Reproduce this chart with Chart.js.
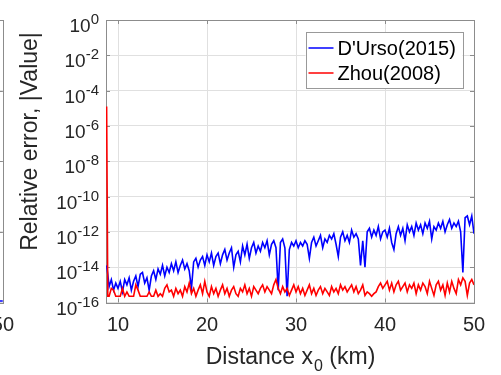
<!DOCTYPE html>
<html>
<head>
<meta charset="utf-8">
<script src="https://cdn.jsdelivr.net/npm/chart.js@4.4.1/dist/chart.umd.min.js"></script>
<style>
  html, body { margin: 0; padding: 0; background: #fff; overflow: hidden; }
  #wrap { position: relative; width: 501px; height: 375px; overflow: hidden; }
  #leftBox { position: absolute; top: 0; left: -306px; width: 320px; height: 375px; }
  #mainBox { position: absolute; top: 0; left: 0; width: 501px; height: 375px; }
</style>
</head>
<body>
<div id="wrap">
  <div id="leftBox"><canvas id="leftChart" width="320" height="375"></canvas></div>
  <div id="mainBox"><canvas id="mainChart" width="501" height="375"></canvas></div>
</div>
<script>
// distance x0 (km)
var distance = [8.72, 8.85, 9, 9.25, 9.5, 9.75,
  10, 10.25, 10.5, 10.75, 11, 11.25, 11.5, 11.75,
  12, 12.25, 12.5, 12.75, 13, 13.25, 13.5, 13.75,
  14, 14.25, 14.5, 14.75, 15, 15.25, 15.5, 15.75,
  16, 16.25, 16.5, 16.75, 17, 17.25, 17.5, 17.75,
  18, 18.25, 18.5, 18.75, 19, 19.25, 19.5, 19.75,
  20, 20.25, 20.5, 20.75, 21, 21.25, 21.5, 21.75,
  22, 22.25, 22.5, 22.75, 23, 23.25, 23.5, 23.75,
  24, 24.25, 24.5, 24.75, 25, 25.25, 25.5, 25.75,
  26, 26.25, 26.5, 26.75, 27, 27.25, 27.5, 27.75,
  28, 28.25, 28.5, 28.75, 29, 29.25, 29.5, 29.75,
  30, 30.25, 30.5, 30.75, 31, 31.25, 31.5, 31.75,
  32, 32.25, 32.5, 32.75, 33, 33.25, 33.5, 33.75,
  34, 34.25, 34.5, 34.75, 35, 35.25, 35.5, 35.75,
  36, 36.25, 36.5, 36.75, 37, 37.25, 37.5, 37.75,
  38, 38.25, 38.5, 38.75, 39, 39.25, 39.5, 39.75,
  40, 40.25, 40.5, 40.75, 41, 41.25, 41.5, 41.75,
  42, 42.25, 42.5, 42.75, 43, 43.25, 43.5, 43.75,
  44, 44.25, 44.5, 44.75, 45, 45.25, 45.5, 45.75,
  46, 46.25, 46.5, 46.75, 47, 47.25, 47.5, 47.75,
  48, 48.25, 48.5, 48.75, 49, 49.25, 49.5, 49.75,
  50];

// log10 of relative error, D'Urso (2015)
var dursoLog = [-13.9, -14.4,
  -15.1, -14.7, -15.3, -14.9,
  -15.2, -14.8, -15.4, -14.7, -15.0, -14.6, -15.3, -14.8,
  -14.5, -15.1, -14.4, -14.3, -14.9, -14.6, -15.3, -14.5,
  -14.2, -14.7, -14.1, -14.4, -13.9, -14.5, -14.0, -14.3,
  -13.8, -14.2, -13.7, -14.3, -13.9, -13.6, -14.1, -13.8,
  -14.2, -15.2, -13.7, -13.5, -14.0, -13.6, -13.4, -13.9,
  -13.3, -13.7, -13.2, -13.9, -13.4, -13.2, -13.8, -13.3,
  -13.0, -13.6, -13.2, -12.9, -14.0, -13.3, -13.1, -13.7,
  -12.8, -13.3, -12.7, -13.5, -12.9, -12.6, -13.2, -12.8,
  -13.1, -12.6, -12.9, -12.5, -13.3, -12.7, -12.5, -12.9,
  -15.3, -12.6, -12.4, -12.9, -15.65, -13.0, -12.6, -12.8,
  -12.5, -12.9, -12.6, -12.8, -12.5, -12.7, -13.5, -12.6,
  -12.3, -12.8, -12.5, -12.2, -12.9, -12.4, -12.6, -12.2,
  -12.4, -12.1, -12.7, -13.4, -12.3, -12.0, -12.5, -12.2,
  -12.6, -11.9, -12.3, -12.1, -12.4, -13.9, -12.5, -14.0,
  -12.0, -11.8, -12.3, -11.9, -12.2, -11.7, -12.4, -12.0,
  -11.9, -12.3, -11.8, -12.6, -13.0, -12.1, -11.7, -12.2,
  -11.8, -12.5, -11.6, -12.0, -11.7, -12.2, -11.5, -11.9,
  -11.6, -12.1, -11.5, -11.8, -11.4, -12.4, -11.7, -11.9,
  -11.5, -11.8, -11.4, -12.0, -11.6, -11.3, -11.8, -11.5,
  -11.7, -11.4, -12.0, -14.3, -11.2, -11.1, -11.6, -11.1,
  -12.1];

// log10 of relative error, Zhou (2008)
var zhouLog = [-4.9, -15.65,
  -15.65, -15.2, -15.3, -15.65,
  -15.65, -15.65, -15.2, -15.65, -15.4, -15.65, -15.65, -15.65,
  -15.0, -15.3, -15.65, -15.65, -15.65, -15.65, -15.4, -15.65,
  -15.65, -15.3, -15.65, -15.5, -15.65, -15.2, -15.0, -15.4,
  -15.3, -15.65, -15.2, -15.5, -15.3, -15.65, -15.1, -15.4,
  -14.9, -15.5, -15.2, -15.65, -15.3, -15.0, -15.5, -14.8,
  -15.4, -15.65, -15.1, -15.5, -15.2, -15.65, -15.3, -15.0,
  -15.5, -15.2, -15.65, -15.3, -15.1, -15.5, -15.65, -15.2,
  -15.4, -15.0, -15.5, -15.2, -15.65, -15.1, -15.3, -15.5,
  -15.2, -15.0, -15.4, -15.1, -15.3, -15.5, -15.0, -14.7,
  -15.2, -15.5, -15.1, -15.4, -15.2, -15.6, -15.3, -15.0,
  -15.4, -15.1, -15.5, -15.2, -15.6, -15.3, -15.0, -15.5,
  -15.2, -15.6, -15.3, -15.1, -15.5, -15.2, -15.4, -15.6,
  -15.1, -15.4, -15.2, -15.5, -15.0, -15.3, -15.1, -15.4,
  -15.2, -15.0, -15.4, -15.1, -15.5, -15.3, -15.0, -15.6,
  -15.4, -15.5, -15.65, -15.5, -15.4, -15.1, -14.9, -15.2,
  -15.0, -14.8, -15.3, -14.9, -15.4, -15.0, -14.8, -15.3,
  -15.1, -14.9, -15.4, -15.0, -15.2, -14.9, -15.5, -15.0,
  -15.3, -14.9, -15.1, -15.5, -14.8, -15.2, -15.6, -15.0,
  -14.8, -15.3, -15.0, -15.6, -14.9, -15.4, -14.8, -15.2,
  -15.5, -14.7, -15.0, -14.6, -14.8, -15.6, -14.9, -14.7,
  -15.0];

var seriesNames = ["D'Urso(2015)", "Zhou(2008)"];
var seriesColors = ['#0000ff', '#ff0000'];
var xTicks = [10, 20, 30, 40, 50];
var yTickExps = [0, -2, -4, -6, -8, -10, -12, -14, -16];

// neighbouring panel (only its right edge shows)
var leftX = [10, 20, 30, 40, 50];
var leftY = [0.02, 0.02, 0.02, 0.02, 0.02];
var leftYTicks = [0, 1, 2, 3, 4];

var FONT = "'Liberation Sans', Arial, Helvetica, sans-serif";
var TXT = '#262626';
var GRID = '#e0e0e0';
var AXIS = '#8c8c8c';

function toPoints(logs) {
  return distance.map(function (x, i) { return { x: x, y: Math.pow(10, logs[i]) }; });
}

// box round the axes + small inward ticks, like matlab (under the lines)
var boxPlugin = {
  id: 'boxPlugin',
  beforeDatasetsDraw: function (chart) {
    var ctx = chart.ctx, a = chart.chartArea;
    var xs = chart.scales.x, ys = chart.scales.y;
    ctx.save();
    ctx.strokeStyle = AXIS;
    ctx.lineWidth = 1;
    ctx.beginPath();
    xs.ticks.forEach(function (t) {
      var px = Math.round(xs.getPixelForValue(t.value)) + 0.5;
      ctx.moveTo(px, a.bottom); ctx.lineTo(px, a.bottom - 4);
      ctx.moveTo(px, a.top); ctx.lineTo(px, a.top + 4);
    });
    ys.ticks.forEach(function (t) {
      var py = Math.round(ys.getPixelForValue(t.value)) + 0.5;
      ctx.moveTo(a.left, py); ctx.lineTo(a.left + 4, py);
      ctx.moveTo(a.right, py); ctx.lineTo(a.right - 4, py);
    });
    ctx.stroke();
    ctx.strokeRect(Math.round(a.left) + 0.5, Math.round(a.top) + 0.5,
      Math.round(a.right - a.left), Math.round(a.bottom - a.top));
    ctx.restore();
  }
};

// y tick labels with exponents, axis titles, legend box
var textPlugin = {
  id: 'textPlugin',
  afterDraw: function (chart) {
    var ctx = chart.ctx, a = chart.chartArea, ys = chart.scales.y;
    ctx.save();
    ctx.fillStyle = TXT;
    ctx.textAlign = 'left';
    ctx.textBaseline = 'alphabetic';

    yTickExps.forEach(function (e) {
      var py = ys.getPixelForValue(Math.pow(10, e));
      var sup = String(e);
      ctx.font = '15px ' + FONT;
      var wSup = ctx.measureText(sup).width;
      ctx.font = '19px ' + FONT;
      var wBase = ctx.measureText('10').width;
      var right = a.left - 7;
      ctx.fillText('10', right - wSup - wBase, py + 12);
      ctx.font = '15px ' + FONT;
      ctx.fillText(sup, right - wSup, py + 4);
    });

    // x title with subscript
    var t1 = 'Distance x', t2 = '0', t3 = ' (km)';
    ctx.font = '23px ' + FONT;
    var w1 = ctx.measureText(t1).width, w3 = ctx.measureText(t3).width;
    ctx.font = '16px ' + FONT;
    var w2 = ctx.measureText(t2).width;
    var sx = (a.left + a.right) / 2 - (w1 + w2 + w3) / 2;
    ctx.font = '23px ' + FONT;
    ctx.fillText(t1, sx, 364);
    ctx.fillText(t3, sx + w1 + w2 + 1, 364);
    ctx.font = '16px ' + FONT;
    ctx.fillText(t2, sx + w1 + 1, 371);

    // y title
    ctx.save();
    ctx.translate(36.5, 141.5);
    ctx.rotate(-Math.PI / 2);
    ctx.textAlign = 'center';
    ctx.font = '23px ' + FONT;
    ctx.fillText('Relative error, |Value|', 0, 0);
    ctx.restore();

    // legend
    var lw = 157, lh = 56;
    var lx = a.right - 11.5 - lw, ly = a.top + 12;
    ctx.fillStyle = '#fff';
    ctx.fillRect(lx, ly, lw, lh);
    ctx.strokeStyle = '#999';
    ctx.lineWidth = 1;
    ctx.strokeRect(Math.round(lx) + 0.5, Math.round(ly) + 0.5, lw, lh);
    ctx.font = '20px ' + FONT;
    ctx.textBaseline = 'middle';
    seriesNames.forEach(function (name, i) {
      var yy = ly + 16 + i * 25;
      ctx.strokeStyle = seriesColors[i];
      ctx.lineWidth = 1.5;
      ctx.beginPath();
      ctx.moveTo(lx + 3, yy); ctx.lineTo(lx + 28, yy);
      ctx.stroke();
      ctx.fillStyle = '#000';
      ctx.fillText(name, lx + 32, yy + 1);
    });
    ctx.restore();
  }
};

var leftChart = new Chart(document.getElementById('leftChart'), {
  type: 'line',
  data: {
    datasets: [{
      data: leftX.map(function (x, i) { return { x: x, y: leftY[i] }; }),
      borderColor: '#0000ff', borderWidth: 1.5, pointRadius: 0, tension: 0
    }]
  },
  options: {
    responsive: false, animation: false, devicePixelRatio: 1,
    layout: { padding: { top: 20, right: 0, left: 0, bottom: 0 } },
    plugins: { legend: { display: false }, tooltip: { enabled: false } },
    scales: {
      x: {
        type: 'linear', min: 10, max: 50,
        afterBuildTicks: function (s) { s.ticks = [{ value: 50 }]; },
        afterFit: function (s) { s.height = 72.5; },
        grid: { display: false, drawTicks: false },
        border: { display: false },
        ticks: { font: { size: 20, family: FONT }, color: TXT, padding: 11, maxRotation: 0 }
      },
      y: {
        type: 'linear', min: 0, max: 4,
        afterBuildTicks: function (s) { s.ticks = leftYTicks.map(function (v) { return { value: v }; }); },
        afterFit: function (s) { s.width = 60; },
        grid: { color: GRID, drawTicks: false },
        border: { display: false },
        ticks: { display: false }
      }
    }
  },
  plugins: [boxPlugin]
});
document.getElementById('leftBox').style.left = (2.5 - leftChart.chartArea.right) + 'px';

var mainChart = new Chart(document.getElementById('mainChart'), {
  type: 'line',
  data: {
    datasets: [
      { label: seriesNames[0], data: toPoints(dursoLog), borderColor: seriesColors[0],
        borderWidth: 1.6, pointRadius: 0, tension: 0, order: 2 },
      { label: seriesNames[1], data: toPoints(zhouLog), borderColor: seriesColors[1],
        borderWidth: 1.6, pointRadius: 0, tension: 0, order: 1 }
    ]
  },
  options: {
    responsive: false, animation: false, devicePixelRatio: 1,
    layout: { padding: { top: 20, right: 27, left: 0, bottom: 0 } },
    plugins: { legend: { display: false }, tooltip: { enabled: false } },
    scales: {
      x: {
        type: 'linear', min: 8.65, max: 50,
        afterBuildTicks: function (s) { s.ticks = xTicks.map(function (v) { return { value: v }; }); },
        afterFit: function (s) { s.height = 72.5; },
        grid: { color: GRID, drawTicks: false },
        border: { display: false },
        ticks: { font: { size: 20, family: FONT }, color: TXT, padding: 11, maxRotation: 0 }
      },
      y: {
        type: 'logarithmic', min: 1e-16, max: 1,
        afterBuildTicks: function (s) { s.ticks = yTickExps.map(function (e) { return { value: Math.pow(10, e) }; }); },
        afterFit: function (s) { s.width = 106; },
        grid: { color: GRID, drawTicks: false },
        border: { display: false },
        ticks: { display: false }
      }
    }
  },
  plugins: [boxPlugin, textPlugin]
});
</script>
</body>
</html>
